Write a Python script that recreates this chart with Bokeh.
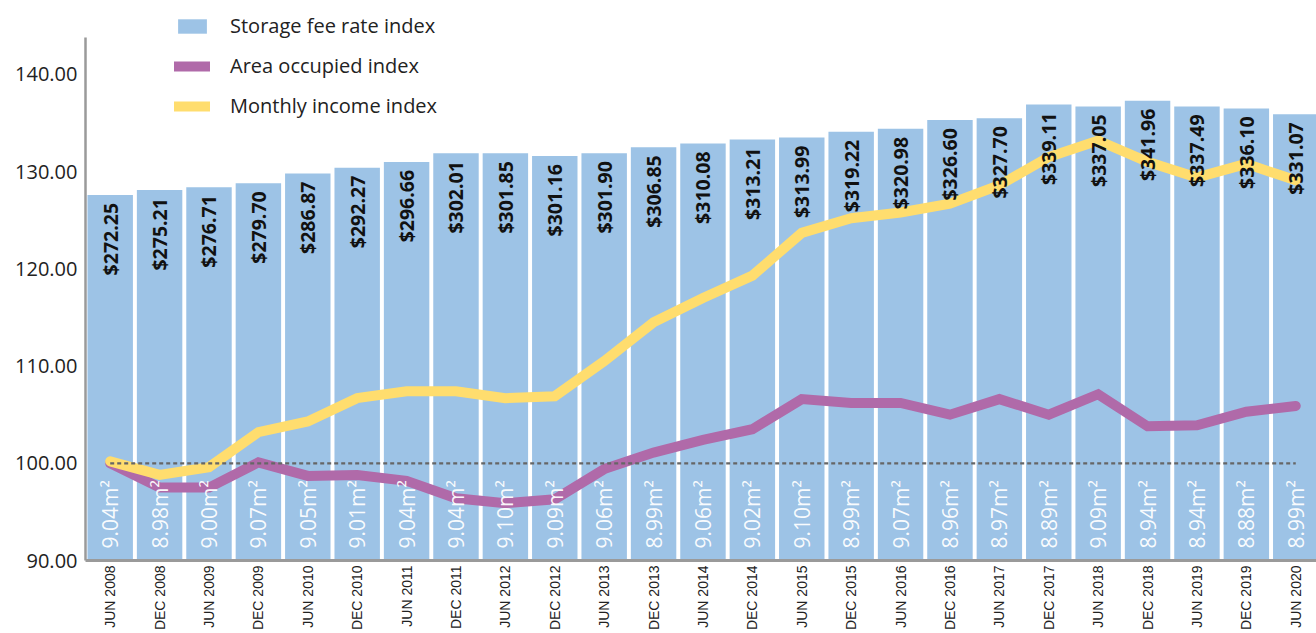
from math import pi
from bokeh.plotting import figure
from bokeh.models import (Range1d, FixedTicker, Legend, LegendItem, ColumnDataSource,
                          NumeralTickFormatter)
from bokeh.core.properties import value
from bokeh.embed import file_html
from bokeh.resources import INLINE

periods = ["JUN 2008", "DEC 2008", "JUN 2009", "DEC 2009", "JUN 2010", "DEC 2010",
           "JUN 2011", "DEC 2011", "JUN 2012", "DEC 2012", "JUN 2013", "DEC 2013",
           "JUN 2014", "DEC 2014", "JUN 2015", "DEC 2015", "JUN 2016", "DEC 2016",
           "JUN 2017", "DEC 2017", "JUN 2018", "DEC 2018", "JUN 2019", "DEC 2019",
           "JUN 2020"]

fee_rate = [272.25, 275.21, 276.71, 279.70, 286.87, 292.27, 296.66, 302.01, 301.85,
            301.16, 301.90, 306.85, 310.08, 313.21, 313.99, 319.22, 320.98, 326.60,
            327.70, 339.11, 337.05, 341.96, 337.49, 336.10, 331.07]

avg_area = [9.04, 8.98, 9.00, 9.07, 9.05, 9.01, 9.04, 9.04, 9.10, 9.09, 9.06, 8.99,
            9.06, 9.02, 9.10, 8.99, 9.07, 8.96, 8.97, 8.89, 9.09, 8.94, 8.94, 8.88, 8.99]

fee_index = [127.6, 128.1, 128.4, 128.8, 129.8, 130.4, 131.0, 131.9, 131.9, 131.6,
             131.9, 132.5, 132.9, 133.3, 133.5, 134.1, 134.4, 135.3, 135.5, 136.9,
             136.7, 137.3, 136.7, 136.5, 135.9]

area_index = [100.0, 97.5, 97.5, 100.1, 98.7, 98.8, 98.2, 96.4, 95.9, 96.3, 99.4, 101.1,
              102.4, 103.5, 106.6, 106.2, 106.2, 105.0, 106.6, 105.0, 107.1, 103.8,
              103.9, 105.3, 105.9]

income_index = [100.2, 98.8, 99.6, 103.2, 104.3, 106.7, 107.4, 107.4, 106.7, 106.9,
                110.5, 114.5, 117.0, 119.3, 123.7, 125.2, 125.8, 126.7, 128.6, 131.5,
                133.2, 131.0, 129.4, 130.8, 129.1]

base_value = 100.0
y_min, y_axis_top, y_max = 90.0, 143.8, 147.6

idx = list(range(len(periods)))
src = ColumnDataSource(dict(
    x=idx,
    fee=fee_index,
    area=area_index,
    income=income_index,
    fee_lbl=["$%.2f" % v for v in fee_rate],
    area_lbl=["%.2fm\u00b2" % v for v in avg_area],
    bottom=[y_min] * len(idx),
    base=[base_value] * len(idx),
))

p = figure(width=1316, height=633,
           x_range=Range1d(-0.5, 24.42), y_range=Range1d(y_min, y_max),
           output_backend="svg", toolbar_location=None,
           min_border_left=85, min_border_right=0, min_border_top=0, min_border_bottom=0)

p.xgrid.visible = False
p.ygrid.visible = False
p.outline_line_color = None
p.background_fill_color = "white"

bars = p.vbar(x="x", top="fee", bottom="bottom", width=0.92, source=src,
              fill_color="#9DC3E6", line_color=None)

area_line = p.line("x", "area", source=src, line_color="#B06AA9", line_width=10,
                   line_cap="round", line_join="miter")
income_line = p.line("x", "income", source=src, line_color="#FFDD6E", line_width=10,
                     line_cap="round", line_join="miter")

p.line("x", "base", source=src, line_color="#666666", line_width=2.2, line_dash="4 3")

p.text(x="x", y="fee", text="fee_lbl", source=src, angle=pi / 2,
       text_align="right", text_baseline="middle", y_offset=8,
       text_font=value("Open Sans"), text_font_size="19.5px", text_font_style="bold",
       text_color="#111111")

p.text(x="x", y="bottom", text="area_lbl", source=src, angle=pi / 2,
       text_align="left", text_baseline="middle", y_offset=-12,
       text_font=value("Open Sans"), text_font_size="21px",
       text_color="#FFFFFF", text_alpha=0.95)

# axes
p.yaxis.ticker = FixedTicker(ticks=[90, 100, 110, 120, 130, 140])
p.yaxis.bounds = (y_min, y_axis_top)
p.yaxis.formatter = NumeralTickFormatter(format="0.00")
p.yaxis.axis_line_color = "#9A9A9A"
p.yaxis.axis_line_width = 2.5
p.yaxis.major_tick_line_color = None
p.yaxis.minor_tick_line_color = None
p.yaxis.major_tick_out = 0
p.yaxis.minor_tick_out = 0
p.yaxis.major_label_standoff = 8
p.yaxis.major_label_text_font = "Open Sans"
p.yaxis.major_label_text_font_size = "20px"
p.yaxis.major_label_text_color = "#222222"

p.xaxis.ticker = FixedTicker(ticks=idx)
p.xaxis.major_label_overrides = {i: s for i, s in zip(idx, periods)}
p.xaxis.major_label_orientation = pi / 2
p.xaxis.axis_line_color = "#9A9A9A"
p.xaxis.axis_line_width = 3
p.xaxis.major_tick_line_color = None
p.xaxis.minor_tick_line_color = None
p.xaxis.major_tick_out = 0
p.xaxis.minor_tick_out = 0
p.xaxis.major_label_standoff = 5
p.xaxis.major_label_text_font = "Liberation Sans"
p.xaxis.major_label_text_font_size = "14px"
p.xaxis.major_label_text_color = "#222222"

legend = Legend(items=[
    LegendItem(label="Storage fee rate index", renderers=[bars]),
    LegendItem(label="Area occupied index", renderers=[area_line]),
    LegendItem(label="Monthly income index", renderers=[income_line]),
], location=(89, 441), orientation="vertical",
    glyph_width=36, glyph_height=18, label_height=20, spacing=13, label_standoff=20,
    padding=0, margin=0, border_line_color=None, background_fill_alpha=0,
    label_text_font="Open Sans", label_text_font_size="20px", label_text_color="#222222")
p.add_layout(legend)

open("out.html", "w").write(file_html(p, INLINE))
